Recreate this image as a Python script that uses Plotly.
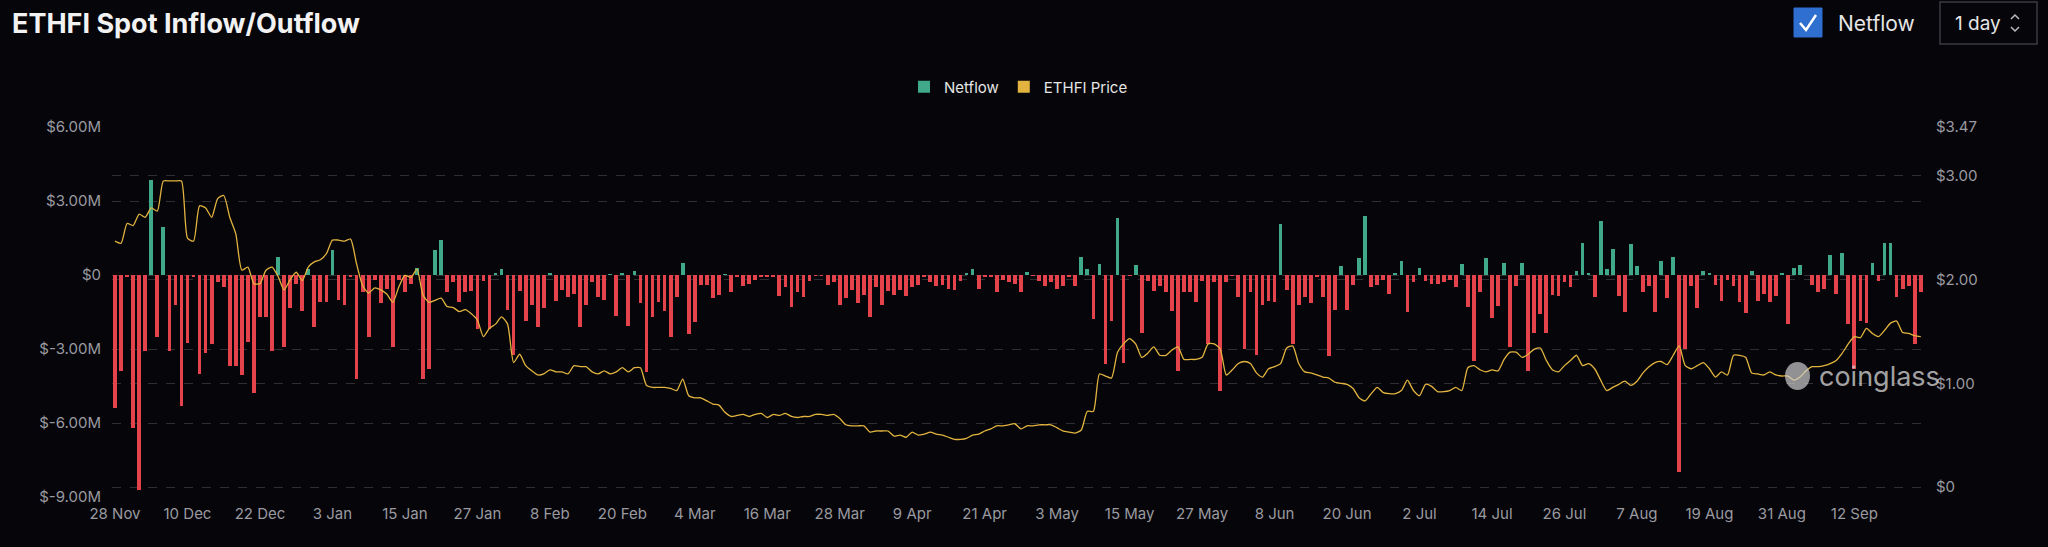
import pandas as pd
import plotly.graph_objects as go

start_date = "2024-11-28"
# Daily netflow, $M
netflow = [
 -5.4,-3.9,-0.05,-6.2,-8.7,-3.1,3.85,-2.5,1.95,-3.1,-1.2,-5.3,-2.75,-0.05,-4.0,-3.15,-2.8,-0.3,-0.5,-3.7,
 -3.7,-4.05,-2.7,-4.8,-1.7,-1.7,-3.1,0.75,-2.9,-1.35,-0.35,-1.45,0.25,-2.1,-1.1,-1.1,1.0,-1.0,-1.2,-0.05,
 -4.2,-0.7,-2.5,-0.2,-1.15,-0.55,-2.9,-0.2,-0.7,-0.35,0.3,-4.2,-3.8,1.0,
 1.4,-0.7,-0.3,-1.1,-0.7,-0.65,-2.2,-0.25,-2.2,0.1,0.25,-1.4,-3.25,-0.65,-1.85,-1.2,-2.1,-1.35,0.05,-1.05,
 -0.6,-0.9,-0.75,-2.1,-1.2,-0.3,-0.9,-1.0,0.03,-1.65,0.05,-2.05,0.15,-1.15,-3.95,-1.7,-1.1,-1.45,-2.5,-0.9,
 0.5,-2.4,-1.9,-0.4,-0.4,-0.95,-0.8,0.03,-0.7,-0.1,-0.45,-0.35,-0.2,-0.1,-0.05,-0.05,-0.85,-0.5,
 -1.3,-0.7,-0.9,-0.25,-0.02,-0.03,-0.4,-0.3,-1.2,-0.95,-0.6,-1.15,-0.8,-1.7,-0.5,-1.2,-0.65,-0.8,-0.6,-0.85,
 -0.5,-0.4,-0.05,-0.3,-0.45,-0.4,-0.55,-0.6,-0.25,0.05,0.25,-0.55,-0.05,-0.05,-0.7,-0.2,-0.3,-0.35,-0.7,0.12,
 -0.03,-0.25,-0.45,-0.3,-0.55,-0.45,-0.05,-0.45,0.75,0.25,-1.8,0.45,-3.6,-1.85,2.3,-3.55,-0.03,0.4,
 -2.35,-0.25,-0.65,-0.45,-0.7,-1.45,-3.9,-0.7,-0.7,-1.1,-0.25,-2.8,-0.3,-4.7,-0.3,-0.03,-0.9,-3.0,-0.7,-3.25,
 -1.2,-1.05,-1.1,2.05,-0.6,-2.8,-1.2,-0.9,-1.15,-0.1,-0.9,-3.3,-1.4,0.35,-1.4,-0.4,0.7,2.4,-0.5,-0.4,
 -0.2,-0.75,0.1,0.55,-1.5,-0.3,0.3,-0.25,-0.35,-0.35,-0.3,-0.2,-0.5,0.45,-1.3,-3.5,-0.7,0.7,
 -1.75,-1.25,0.47,-2.9,-0.45,0.5,-3.9,-2.35,-1.6,-2.35,-0.8,-0.85,-0.3,-0.5,0.17,1.3,0.05,-0.9,2.2,0.23,
 1.05,-0.85,-1.5,1.25,0.38,-0.7,-0.45,-1.5,0.55,-0.95,0.75,-8.0,-3.0,-0.45,-1.35,0.17,0.07,-0.4,-1.05,-0.2,
 -0.45,-1.1,-1.55,0.17,-1.05,-0.75,-1.1,-0.85,0.05,-2.0,0.3,0.4,0,-0.4,-0.7,-0.55,0.8,-0.75,0.9,-2.0,
 -3.8,-1.85,-1.95,0.47,-0.25,1.3,1.3,
 -0.9,-0.55,-0.45,-2.8,-0.7,
]
# Daily ETHFI price, $
price = [
 2.37,2.35,2.54,2.52,2.63,2.6,2.69,2.66,2.95,2.95,2.95,2.95,2.4,2.37,2.71,2.69,2.6,2.78,2.81,2.6,
 2.44,2.09,2.12,1.96,1.96,2.09,2.12,2.03,1.9,2.0,2.07,1.99,2.12,2.17,2.19,2.25,2.38,2.38,2.37,2.39,
 2.15,1.94,1.87,1.92,1.9,1.86,1.78,1.93,2.04,2.02,2.1,1.85,1.78,1.8,
 1.82,1.74,1.73,1.69,1.71,1.67,1.61,1.45,1.53,1.57,1.64,1.57,1.2,1.28,1.17,1.12,1.08,1.09,1.13,1.11,
 1.11,1.09,1.17,1.16,1.16,1.11,1.09,1.12,1.09,1.11,1.15,1.11,1.15,1.15,0.98,0.96,0.96,0.96,0.95,0.93,1.04,
 0.88,0.86,0.86,0.83,0.80,0.79,0.72,0.68,0.69,0.70,0.68,0.70,0.71,0.67,0.70,0.69,0.71,0.68,0.67,0.68,
 0.68,0.70,0.70,0.69,0.70,0.66,0.60,0.59,0.59,0.59,0.53,0.54,0.54,0.54,0.49,0.50,0.48,0.53,0.50,0.51,
 0.53,0.51,0.50,0.48,0.46,0.46,0.47,0.50,0.51,0.54,0.56,0.59,0.59,0.60,0.61,0.56,0.59,0.59,0.60,0.60,
 0.60,0.57,0.54,0.53,0.52,0.55,0.73,0.73,1.09,1.07,1.05,
 1.30,1.38,1.43,1.38,1.25,1.29,1.35,1.27,1.27,1.32,1.35,1.23,1.23,1.23,1.25,1.38,1.38,1.33,1.08,1.13,
 1.19,1.21,1.19,1.10,1.06,1.14,1.16,1.19,1.34,1.36,1.19,1.11,1.10,1.08,1.06,1.05,1.01,1.0,0.99,0.95,
 0.86,0.83,0.9,0.96,0.91,0.9,0.9,0.93,1.03,0.93,0.88,0.99,0.97,0.92,0.92,0.93,0.96,0.93,1.15,1.17,
 1.13,1.11,1.13,1.12,1.23,1.30,1.30,1.25,1.28,1.33,1.34,1.22,
 1.13,1.11,1.17,1.22,1.27,1.17,1.19,1.14,1.03,0.93,0.96,0.99,1.02,0.98,1.02,1.1,1.16,1.2,1.21,1.18,
 1.27,1.36,1.17,1.14,1.17,1.2,1.14,1.06,1.11,1.08,1.27,1.27,1.25,1.1,1.09,1.08,1.11,1.08,1.07,1.07,
 1.03,1.06,1.12,1.16,1.16,1.17,1.19,1.22,1.29,1.38,1.45,1.44,1.53,1.48,1.45,1.51,1.58,1.6,1.49,1.48,
 1.46,1.45,
]
left_ticks = [6, 3, 0, -3, -6, -9]
left_labels = ["$6.00M", "$3.00M", "$0", "$-3.00M", "$-6.00M", "$-9.00M"]
right_ticks = [3.47, 3, 2, 1, 0]
right_labels = ["$3.47", "$3.00", "$2.00", "$1.00", "$0"]
x_tick_dates = pd.date_range("2024-11-28", periods=25, freq="12D")
x_tick_labels = [f"{d.day} {d.strftime('%b')}" for d in x_tick_dates]

GREEN = "#3fa98a"
RED = "#e5434b"
GOLD = "#e2b43f"
BG = "#05050a"
GRID = "#2e2e33"
TICK = "#9a9aa0"

W, H = 2048, 547
L, R, T, B = 112, 123, 127, 50
PW, PH = W - L - R, H - T - B

def px(x):  # pixel x -> paper
    return (x - L) / PW

def py(y):  # pixel y -> paper
    return (H - B - y) / PH

dates_n = pd.date_range(start_date, periods=len(netflow))
dates_p = pd.date_range(start_date, periods=len(price))
colors = [GREEN if v >= 0 else RED for v in netflow]

fig = go.Figure()
fig.add_trace(go.Bar(x=dates_n, y=netflow, marker=dict(color=colors, line_width=0),
                     width=0.62 * 86400000, showlegend=False, name="Netflow"))
fig.add_trace(go.Scatter(x=dates_p, y=price, yaxis="y2", mode="lines",
                         line=dict(color=GOLD, width=1.3, shape="spline", smoothing=0.6),
                         showlegend=False, name="ETHFI Price"))
for nm, c in [("Netflow", GREEN), ("ETHFI Price", GOLD)]:
    fig.add_trace(go.Scatter(x=[None], y=[None], mode="markers", name=nm,
                             marker=dict(symbol="square", size=12, color=c)))

x0 = pd.Timestamp(start_date) - pd.Timedelta(hours=12)
x1 = pd.Timestamp(start_date) + pd.Timedelta(days=len(netflow) - 0.3)

fig.update_layout(
    width=W, height=H, paper_bgcolor=BG, plot_bgcolor=BG,
    margin=dict(l=L, r=R, t=T, b=B),
    font=dict(family="Inter, Roboto, sans-serif", color=TICK, size=15),
    bargap=0,
    legend=dict(orientation="h", x=0.5, xanchor="center", y=1 - 87 / H, yanchor="middle",
                yref="container", font=dict(color="#e6e6e6", size=15),
                bgcolor="rgba(0,0,0,0)"),
    xaxis=dict(range=[x0, x1], tickvals=x_tick_dates, ticktext=x_tick_labels,
               showgrid=False, zeroline=False, showline=False, ticks="",
               tickfont=dict(size=15, color=TICK), ticklabelstandoff=6),
    yaxis=dict(range=[-9, 6], tickvals=left_ticks, ticktext=left_labels,
               showgrid=True, gridcolor=GRID, griddash="dash", gridwidth=1,
               zeroline=False, tickfont=dict(size=15, color=TICK), ticks="",
               ticklabelstandoff=10),
    yaxis2=dict(range=[-0.096, 3.47], overlaying="y", side="right",
                tickvals=right_ticks, ticktext=right_labels,
                showgrid=True, gridcolor=GRID, griddash="dash", gridwidth=1,
                zeroline=False, tickfont=dict(size=15, color=TICK), ticks="",
                ticklabelstandoff=10),
)

fig.add_annotation(text="<b>ETHFI Spot Inflow/Outflow</b>", xref="paper", yref="paper",
                   x=px(10), y=py(23), xanchor="left", yanchor="middle",
                   showarrow=False, font=dict(size=27, color="#f2f2f2", family="Inter, sans-serif"))
# checkbox
bx0, bx1, by0, by1 = 1794, 1822, 8, 37
fig.add_shape(type="rect", xref="paper", yref="paper", x0=px(bx0), x1=px(bx1),
              y0=py(by1), y1=py(by0), fillcolor="#2f6fd0", line=dict(color="#2f6fd0", width=1))
fig.add_shape(type="path", xref="paper", yref="paper",
              path=f"M {px(1800)} {py(23)} L {px(1806)} {py(30)} L {px(1816)} {py(15)}",
              line=dict(color="white", width=2.5))
fig.add_annotation(text="Netflow", xref="paper", yref="paper", x=px(1836), y=py(23),
                   xanchor="left", yanchor="middle", showarrow=False,
                   font=dict(size=21, color="#e6e6e6"))
fig.add_shape(type="rect", xref="paper", yref="paper", x0=px(1940), x1=px(2037),
              y0=py(44), y1=py(2), line=dict(color="#3a3a40", width=1.5), fillcolor=BG)
fig.add_annotation(text="1 day", xref="paper", yref="paper", x=px(1953), y=py(23),
                   xanchor="left", yanchor="middle", showarrow=False,
                   font=dict(size=19, color="#e6e6e6"))
fig.add_shape(type="path", xref="paper", yref="paper",
              path=f"M {px(2011)} {py(19)} L {px(2015)} {py(15)} L {px(2019)} {py(19)}",
              line=dict(color="#bbbbbb", width=1.5))
fig.add_shape(type="path", xref="paper", yref="paper",
              path=f"M {px(2011)} {py(27)} L {px(2015)} {py(31)} L {px(2019)} {py(27)}",
              line=dict(color="#bbbbbb", width=1.5))
# watermark
fig.add_annotation(text="coinglass", xref="paper", yref="paper", x=px(1817), y=py(376),
                   xanchor="left", yanchor="middle", showarrow=False,
                   font=dict(size=27, color="rgba(205,205,205,0.8)", family="Inter, sans-serif"))
fig.add_shape(type="circle", xref="paper", yref="paper", x0=px(1785), x1=px(1810),
              y0=py(390), y1=py(362), fillcolor="rgba(205,205,205,0.7)", line_width=0)

fig.write_html("out.html", config={"displayModeBar": False},
               post_script="document.body.style.margin='0';document.body.style.overflow='hidden';")
